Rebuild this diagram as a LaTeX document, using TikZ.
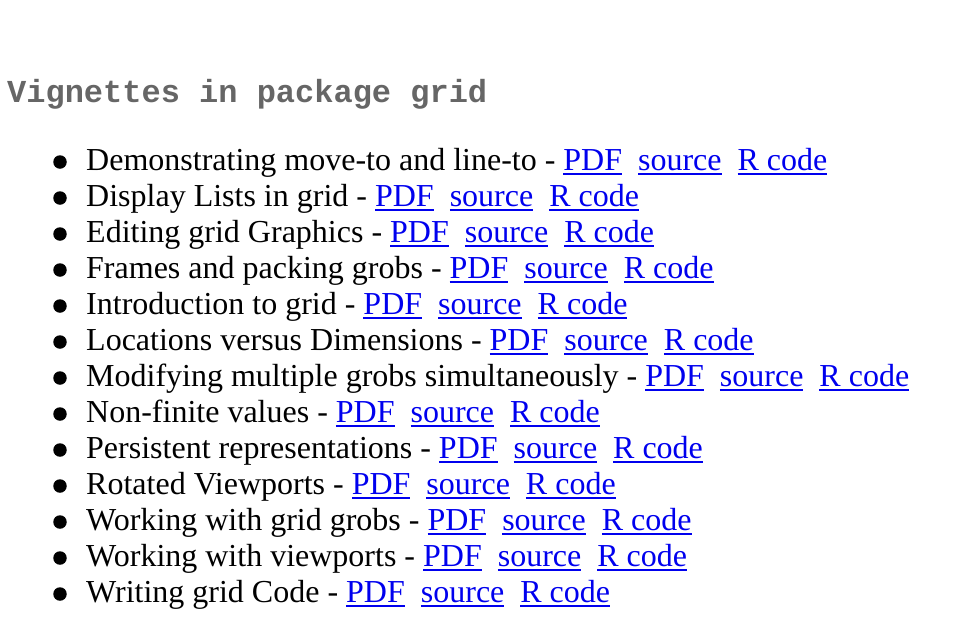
\documentclass[tikz,border=0pt]{standalone}
\usepackage{fontspec}
\setmainfont{Liberation Serif}
\newfontfamily\titlefont{Liberation Mono}
\definecolor{linkblue}{HTML}{0000EE}
\definecolor{titlegray}{HTML}{666666}
\newcommand\lnk[1]{{\color{linkblue}\sbox0{#1}\rlap{\rule[-4.5pt]{\wd0}{2pt}}\box0}}
\begin{document}
\begin{tikzpicture}[x=1pt,y=-1pt,
  title/.style={anchor=base west,inner sep=0pt,font=\titlefont\bfseries\fontsize{32}{36}\selectfont,text=titlegray},
  item/.style={anchor=base west,inner sep=0pt,font=\fontsize{32}{36}\selectfont,text=black},
  dot/.style={circle,fill=black,inner sep=0pt,minimum size=13.5pt}]
\useasboundingbox (0,0) rectangle (970,632);
\node[title] (t) at (7,102) {Vignettes in package grid};
\foreach \i/\txt in {
 0/{Demonstrating move-to and line-to},
 1/{Display Lists in grid},
 2/{Editing grid Graphics},
 3/{Frames and packing grobs},
 4/{Introduction to grid},
 5/{Locations versus Dimensions},
 6/{Modifying multiple grobs simultaneously},
 7/{Non-finite values},
 8/{Persistent representations},
 9/{Rotated Viewports},
 10/{Working with grid grobs},
 11/{Working with viewports},
 12/{Writing grid Code}}{
  \pgfmathsetmacro\yb{170+36*\i}
  \node[dot] (b\i) at (60,\yb-8) {};
  \node[item] (r\i) at (86,\yb) {\txt{} - \lnk{PDF}\ \ \lnk{source}\ \ \lnk{R code}};
}
\end{tikzpicture}
\end{document}
